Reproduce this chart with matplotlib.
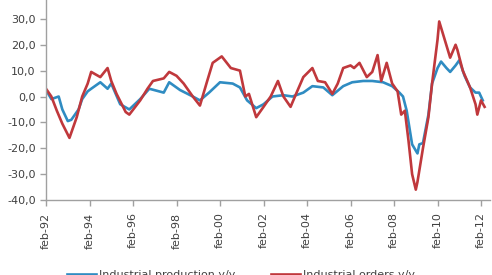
#!/usr/bin/env python3
"""Industrial production vs industrial orders, y/y % change, feb-92 .. feb-12."""
import numpy as np
import pandas as pd
import matplotlib
matplotlib.use('Agg')
import matplotlib.pyplot as plt

# values (monthly points, y/y %)
prod_dates = ['1992-02', '1992-05', '1992-09', '1992-11', '1993-02', '1993-04', '1993-08',
              '1993-10', '1994-01', '1994-03', '1994-08', '1994-12', '1995-02', '1995-07',
              '1995-12', '1996-06', '1996-11', '1997-07', '1997-10', '1998-04', '1998-11',
              '1999-03', '1999-08', '2000-02', '2000-09', '2001-01', '2001-05', '2001-10',
              '2002-02', '2002-07', '2003-01', '2003-06', '2003-12', '2004-05', '2004-11',
              '2005-04', '2005-10', '2006-03', '2006-09', '2007-02', '2007-08', '2008-01',
              '2008-05', '2008-07', '2008-09', '2008-12', '2009-03', '2009-04', '2009-06',
              '2009-09', '2009-11', '2010-02', '2010-04', '2010-07', '2010-09', '2010-12',
              '2011-02', '2011-05', '2011-08', '2011-11', '2012-01', '2012-03']
prod_vals = [2.5, -1, 0, -5, -9.5, -9, -5,
             -1, 2, 3, 5.5, 3, 5, -3,
             -5, -1, 3, 1.5, 5.5, 2.5, 0,
             -1.5, 1.5, 5.5, 5, 3.5, -1.5, -4.5,
             -3, 0, 0.5, 0, 1.5, 4, 3.5,
             0.5, 4, 5.5, 6, 6, 5.5, 4,
             1.5, 0, -5.5, -18.5, -22, -18.5, -18,
             -7, 5, 11, 13.5, 11, 9.5, 12,
             14, 8, 3.5, 1.5, 1.5, -1.5]

orders_dates = ['1992-02', '1992-05', '1992-08', '1992-11', '1993-03', '1993-07', '1993-10',
                '1994-01', '1994-03', '1994-08', '1994-12', '1995-02', '1995-05', '1995-10',
                '1995-12', '1996-06', '1996-10', '1997-01', '1997-07', '1997-10', '1998-02',
                '1998-06', '1998-11', '1999-03', '1999-07', '1999-10', '2000-03', '2000-08',
                '2001-01', '2001-04', '2001-06', '2001-10', '2002-02', '2002-06', '2002-10',
                '2003-01', '2003-05', '2003-08', '2003-12', '2004-05', '2004-08', '2004-12',
                '2005-04', '2005-07', '2005-10', '2006-02', '2006-04', '2006-07', '2006-11',
                '2007-02', '2007-05', '2007-07', '2007-10', '2008-01', '2008-04', '2008-06',
                '2008-08', '2008-10', '2008-12', '2009-02', '2009-03', '2009-06', '2009-09',
                '2009-11', '2010-02', '2010-03', '2010-06', '2010-09', '2010-12', '2011-01',
                '2011-04', '2011-08', '2011-11', '2011-12', '2012-02', '2012-04']
orders_vals = [3, 0, -5.5, -10.5, -16, -8, 0,
               5, 9.5, 7.5, 11, 6, 1, -6,
               -7, -1.5, 3, 6, 7, 9.5, 8,
               5, 0, -3.5, 6, 13, 15.5, 11,
               10, 0, 1, -8, -4, 0, 6,
               0, -4, 1, 7.5, 11, 6, 5.5,
               1, 5, 11, 12, 11, 13, 7.5,
               9.5, 16, 6, 13, 5, 2, -7,
               -5.5, -17, -30, -36, -33, -20, -8,
               5, 22, 29, 22, 15, 20, 18,
               10, 3.5, -3, -7, -1.5, -4]

yticks = [-40, -30, -20, -10, 0, 10, 20, 30, 40]

BLUE = '#2f8cc2'
RED = '#c0383c'
GREY = '#404040'

prod = pd.Series(prod_vals, index=pd.to_datetime(prod_dates))
orders = pd.Series(orders_vals, index=pd.to_datetime(orders_dates))

fig = plt.figure(figsize=(4.92, 2.75), dpi=100)
# top of the axes sits above the picture, as in the cropped original
ax = fig.add_axes([46 / 492, 75 / 275, 444 / 492, 207 / 275])

l1, = ax.plot(prod.index, prod.values, color=BLUE, lw=1.9, label='Industrial production y/y')
l2, = ax.plot(orders.index, orders.values, color=RED, lw=1.9, label='Industrial orders y/y')

ax.set_ylim(-40, 40)
ax.set_yticks(yticks)
ax.set_yticklabels([f'{v:.1f}'.replace('.', ',') for v in yticks])
ax.set_xlim(pd.Timestamp('1992-02-01'), pd.Timestamp('2012-07-01'))
xt = pd.date_range('1992-02-01', '2012-02-01', freq='24MS')
ax.set_xticks(xt)
ax.set_xticklabels([d.strftime('%b-%y').lower() for d in xt])

for s in ['top', 'right']:
    ax.spines[s].set_visible(False)
for s in ['left', 'bottom']:
    ax.spines[s].set_color('#a0a0a0')
    ax.spines[s].set_linewidth(1.0)
ax.tick_params(axis='both', colors='#a0a0a0', labelcolor=GREY, labelsize=8, length=4, width=1)
ax.tick_params(axis='x', labelrotation=90, pad=5)

fig.legend(handles=[l1, l2], loc='center', bbox_to_anchor=(0.49, 0.0), ncol=2,
           frameon=False, fontsize=8, handlelength=2.6, handletextpad=0.3,
           columnspacing=3.2, labelcolor=GREY)

fig.savefig('out.png', dpi=100)
